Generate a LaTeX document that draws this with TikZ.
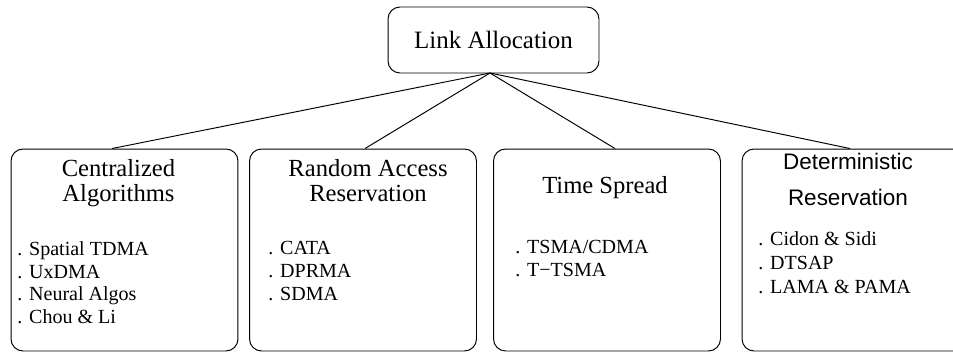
\documentclass[tikz,border=0pt]{standalone}
\usepackage{fontspec}
\setmainfont{Liberation Serif}
\newfontfamily\helv{Liberation Sans}
\usetikzlibrary{positioning}
\tikzset{
  topbox/.style={draw,rounded corners=0.24cm,minimum width=4.22cm,minimum height=1.32cm,inner sep=0pt,
    font=\fontsize{14.2}{14.2}\selectfont},
  catbox/.style={draw,rounded corners=0.24cm,minimum width=4.54cm,minimum height=4.04cm,inner sep=0pt},
  head/.style={align=center,inner sep=0pt,anchor=north,font=\fontsize{14}{14.2}\selectfont},
  items/.style={align=left,inner sep=0pt,anchor=north west,font=\fontsize{11.4}{12.9}\selectfont},
  ag/.style={line width=0.55pt},
}
\begin{document}
\begin{tikzpicture}[x=0.02cm,y=-0.02cm,line width=0.55pt]
  \useasboundingbox (0,0) rectangle (953,352);
  % root
  \node[topbox] (root) at (493.5,40) {Link Allocation};
  \coordinate (split) at (490,73);
  % the four classes
  \node[catbox] (cent) at (124.5,250) {};
  \node[catbox] (rand) at (363,250) {};
  \node[catbox] (tspr) at (607,250) {};
  \node[catbox] (det) at (855.5,250) {};
  \draw[ag] (split) -- ([xshift=-0.25cm]cent.north);
  \draw[ag] (split) -- ([xshift=0.04cm]rand.north);
  \draw[ag] (split) -- ([xshift=0.16cm]tspr.north);
  \draw[ag] (split) -- ([xshift=-0.11cm]det.north);
  % headings
  \node[head] (centh) at (118.5,159) {Centralized\\Algorithms};
  \node[head] (randh) at (368,159) {Random Access\\Reservation};
  \node[head] (tsprh) at (605,176) {Time Spread};
  \node[head,font=\helv\fontsize{12.8}{20.5}\selectfont] (deth) at (848,153) {Deterministic\\Reservation};
  % lists
  \node[items] (centl) at (17,241) {. Spatial TDMA\\. UxDMA\\. Neural Algos\\. Chou \& Li};
  \node[items] (randl) at (268,241) {. CATA\\. DPRMA\\. SDMA};
  \node[items] (tsprl) at (515,240) {. TSMA/CDMA\\. T−TSMA};
  \node[items,font=\fontsize{11.4}{13.8}\selectfont] (detl) at (758,231) {. Cidon \& Sidi\\. DTSAP\\. LAMA \& PAMA};
\end{tikzpicture}
\end{document}
